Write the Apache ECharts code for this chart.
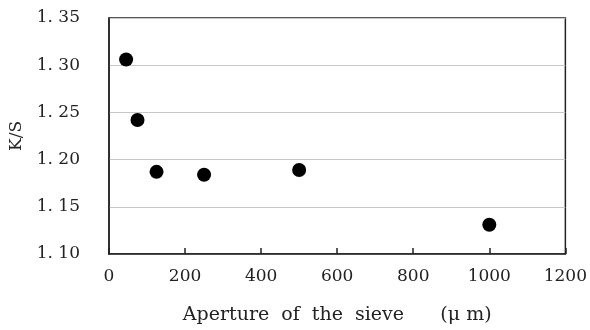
<!DOCTYPE html>
<html>
<head>
<meta charset="utf-8">
<script src="https://cdn.jsdelivr.net/npm/echarts@6/dist/echarts.min.js"></script>
<style>
  html, body { margin: 0; padding: 0; background: #fff; }
  #chart { width: 590px; height: 330px; }
</style>
</head>
<body>
<div id="chart"></div>
<script>
// aperture of the sieve (um) and K/S
const aperture = [45, 75, 125, 250, 500, 1000]
const ks = [1.306, 1.242, 1.187, 1.184, 1.189, 1.131]

const xName = 'Aperture  of  the  sieve      (\u03bc m)'
const yName = 'K/S'

const chart = echarts.init(document.getElementById('chart'))
const font = 'DejaVu Serif'

chart.setOption({
  animation: false,
  grid: {
    left: 109, right: 24, top: 18, bottom: 73,
    show: true, borderColor: '#222', borderWidth: 1.5
  },
  xAxis: {
    type: 'value',
    min: 0, max: 1200, interval: 200,
    name: xName,
    nameLocation: 'middle',
    nameGap: 52,
    nameTextStyle: { fontFamily: font, fontSize: 19, color: '#222' },
    axisLine: { lineStyle: { color: '#222', width: 1.5 } },
    axisTick: { inside: true, length: 6, lineStyle: { color: '#222', width: 1.5 } },
    axisLabel: { fontFamily: font, fontSize: 17, color: '#222', margin: 14, formatter: (v) => String(v) },
    splitLine: { show: false }
  },
  yAxis: {
    type: 'value',
    min: 1.10, max: 1.35, interval: 0.05,
    name: yName,
    nameLocation: 'middle',
    nameGap: 84,
    nameTextStyle: { fontFamily: font, fontSize: 17, color: '#222' },
    axisLine: { lineStyle: { color: '#222', width: 1.5 } },
    axisTick: { show: false },
    axisLabel: {
      fontFamily: font, fontSize: 17, color: '#222', margin: 29,
      formatter: (v) => v.toFixed(2).replace('.', '. ')
    },
    splitLine: { lineStyle: { color: '#c8c8c8', width: 1 } }
  },
  series: [{
    type: 'scatter',
    symbol: 'circle',
    symbolSize: 14,
    itemStyle: { color: '#000', opacity: 1 },
    data: aperture.map((x, i) => [x, ks[i]])
  }]
})
</script>
</body>
</html>
